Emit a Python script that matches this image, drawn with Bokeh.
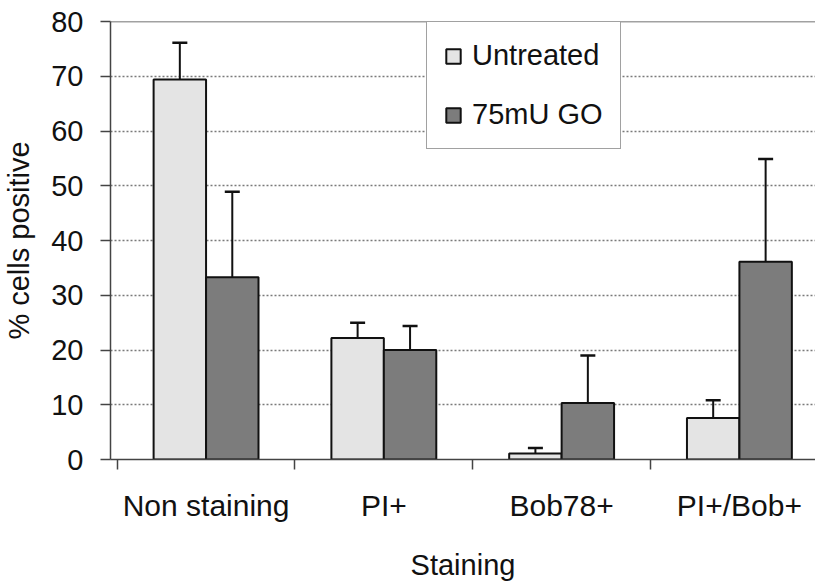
from bokeh.plotting import figure
from bokeh.models import (FixedTicker, Span, Legend, LegendItem, ColumnDataSource,
                          Range1d, Whisker, TeeHead)
from bokeh.embed import file_html
from bokeh.resources import INLINE

categories = ["Non staining", "PI+", "Bob78+", "PI+/Bob+"]
series_names = ["Untreated", "75mU GO"]
untreated = [69.4, 22.2, 1.1, 7.6]
untreated_err_top = [76.1, 25.0, 2.1, 10.8]
go = [33.3, 20.0, 10.3, 36.1]
go_err_top = [48.9, 24.4, 19.0, 54.9]
y_ticks = [0, 10, 20, 30, 40, 50, 60, 70, 80]
x_title = "Staining"
y_title = "% cells positive"

FONT = "Liberation Sans"
TXT = "#111111"
LIGHT = "#e4e4e4"
DARK = "#7c7c7c"
BAR_W = 0.295

centers = [i + 0.5 for i in range(len(categories))]
x_u = [c - BAR_W / 2 for c in centers]
x_g = [c + BAR_W / 2 for c in centers]

src_u = ColumnDataSource(dict(x=x_u, top=untreated, err=untreated_err_top))
src_g = ColumnDataSource(dict(x=x_g, top=go, err=go_err_top))

p = figure(width=815, height=583, output_backend="svg", toolbar_location=None,
           x_range=Range1d(-0.0375, 3.928), y_range=Range1d(0, 80),
           min_border_left=110, min_border_right=0, min_border_top=21,
           min_border_bottom=124)
p.outline_line_color = None
p.background_fill_color = "white"
p.border_fill_color = "white"

# grid
p.xgrid.visible = False
p.ygrid.ticker = FixedTicker(ticks=y_ticks[1:-1])
p.ygrid.grid_line_color = "#7a7a7a"
p.ygrid.grid_line_dash = "2 2"
p.ygrid.grid_line_width = 1.5

p.add_layout(Span(location=80, dimension="width", line_color="#444444", line_width=1.5))

r_u = p.vbar(x="x", top="top", width=BAR_W, source=src_u, fill_color=LIGHT,
             line_color="#111111", line_width=2)
r_g = p.vbar(x="x", top="top", width=BAR_W, source=src_g, fill_color=DARK,
             line_color="#111111", line_width=2)

for src in (src_u, src_g):
    w = Whisker(base="x", lower="top", upper="err", source=src,
                line_color="#111111", line_width=2,
                upper_head=TeeHead(size=15, line_color="#111111", line_width=2.5),
                lower_head=None)
    p.add_layout(w)

# y axis
ya = p.yaxis[0]
ya.ticker = FixedTicker(ticks=y_ticks)
ya.axis_label = y_title
ya.axis_label_text_font = FONT
ya.axis_label_text_font_size = "29px"
ya.axis_label_text_font_style = "normal"
ya.axis_label_text_color = TXT
ya.axis_label_standoff = 13
ya.major_label_text_font = FONT
ya.major_label_text_font_size = "29px"
ya.major_label_text_color = TXT
ya.major_label_standoff = 17
ya.major_tick_out = 10
ya.major_tick_in = 0
ya.minor_tick_line_color = None
ya.axis_line_color = "#444444"
ya.axis_line_width = 1.5
ya.major_tick_line_color = "#444444"
ya.major_tick_line_width = 1.5

# x axis
xa = p.xaxis[0]
xa.ticker = FixedTicker(ticks=centers, minor_ticks=list(range(len(categories) + 1)))
xa.major_label_overrides = {c: lab for c, lab in zip(centers, categories)}
xa.axis_label = x_title
xa.axis_label_text_font = FONT
xa.axis_label_text_font_size = "29px"
xa.axis_label_text_font_style = "normal"
xa.axis_label_text_color = TXT
xa.axis_label_standoff = 24
xa.major_label_text_font = FONT
xa.major_label_text_font_size = "30px"
xa.major_label_text_color = TXT
xa.major_label_standoff = 19
xa.major_tick_out = 10
xa.major_tick_in = 0
xa.major_tick_line_color = None
xa.minor_tick_out = 10
xa.minor_tick_in = 0
xa.minor_tick_line_color = "#444444"
xa.minor_tick_line_width = 1.5
xa.axis_line_color = "#444444"
xa.axis_line_width = 1.5

legend = Legend(items=[LegendItem(label=series_names[0], renderers=[r_u]),
                       LegendItem(label=series_names[1], renderers=[r_g])],
                location=(316, 310))
legend.label_text_font = FONT
legend.label_text_font_size = "29px"
legend.label_text_color = TXT
legend.glyph_width = 18
legend.glyph_height = 18
legend.label_standoff = 10
legend.padding = 17
legend.spacing = 26
legend.margin = 0
legend.border_line_color = "#444444"
legend.border_line_width = 1.5
legend.background_fill_color = "white"
legend.background_fill_alpha = 1.0
p.add_layout(legend, "center")

open("out.html", "w").write(file_html(p, INLINE))
